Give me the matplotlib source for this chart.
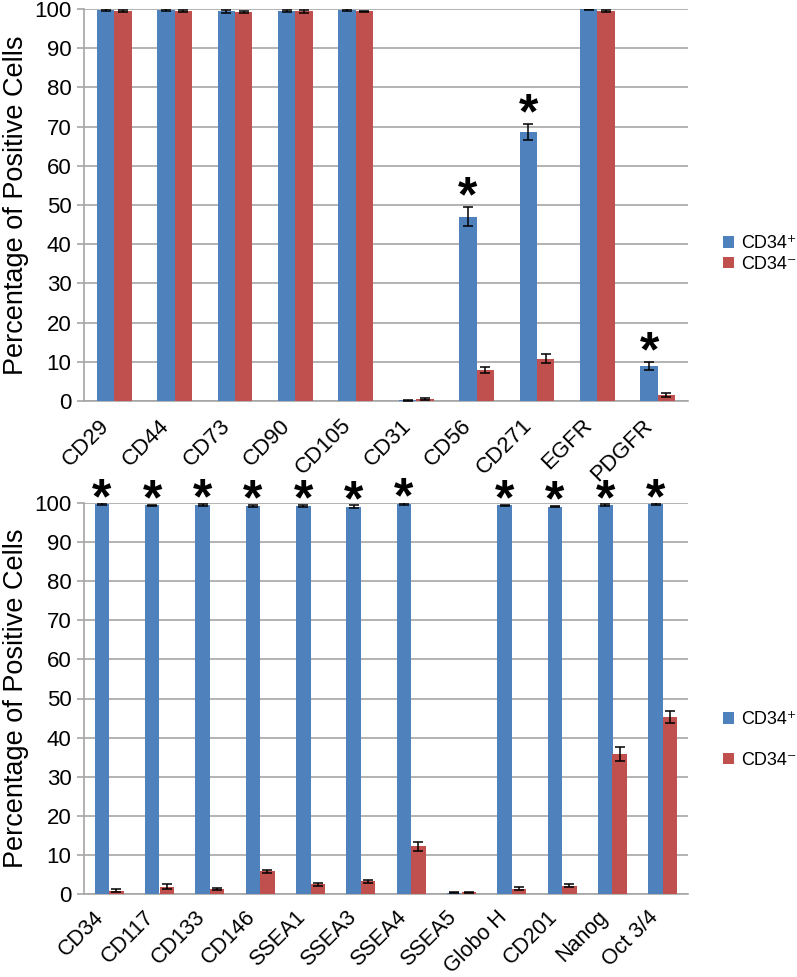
import matplotlib
matplotlib.use("Agg")
import matplotlib.pyplot as plt
import matplotlib.transforms as mtransforms
import numpy as np

plt.rcParams['font.family'] = ['Liberation Sans', 'DejaVu Sans']

# ---- data: top panel ----
top_cats = ["CD29", "CD44", "CD73", "CD90", "CD105", "CD31", "CD56", "CD271", "EGFR", "PDGFR"]
top_pos = [99.8, 99.8, 99.4, 99.5, 99.8, 0.2, 47.0, 68.6, 99.9, 9.0]
top_pos_err = [0.2, 0.2, 0.4, 0.3, 0.2, 0.1, 2.4, 2.1, 0.1, 1.0]
top_neg = [99.5, 99.5, 99.2, 99.4, 99.4, 0.5, 8.0, 10.8, 99.5, 1.5]
top_neg_err = [0.3, 0.2, 0.3, 0.3, 0.2, 0.2, 0.8, 1.2, 0.2, 0.5]
top_star = [False, False, False, False, False, False, True, True, False, True]

# ---- data: bottom panel ----
bot_cats = ["CD34", "CD117", "CD133", "CD146", "SSEA1", "SSEA3", "SSEA4", "SSEA5",
            "Globo H", "CD201", "Nanog", "Oct 3/4"]
bot_pos = [99.7, 99.4, 99.5, 99.3, 99.3, 99.0, 99.8, 0.3, 99.4, 99.1, 99.5, 99.7]
bot_pos_err = [0.2, 0.2, 0.3, 0.2, 0.2, 0.4, 0.2, 0.1, 0.2, 0.2, 0.2, 0.2]
bot_neg = [0.8, 1.9, 1.3, 5.8, 2.5, 3.3, 12.2, 0.4, 1.4, 2.1, 35.8, 45.3]
bot_neg_err = [0.4, 0.6, 0.3, 0.4, 0.4, 0.4, 1.2, 0.1, 0.4, 0.4, 1.8, 1.6]
bot_star = [True, True, True, True, True, True, True, False, True, True, True, True]

labels = ["CD34\u207a", "CD34\u207b"]
yticks = [0, 10, 20, 30, 40, 50, 60, 70, 80, 90, 100]

BLUE = "#4F81BD"
RED = "#C0504D"
GRID = "#A6A6A6"

W, H = 797, 977
fig = plt.figure(figsize=(W / 100, H / 100), dpi=100)

def px_axes(left, top, right, bottom):
    return fig.add_axes([left / W, 1 - bottom / H, (right - left) / W, (bottom - top) / H])

ax1 = px_axes(84, 9, 688, 401)
ax2 = px_axes(84, 503, 688, 894)

def draw(ax, cats, pos, pos_err, neg, neg_err, stars, star_off, xfs, xpad, xshift):
    x = np.arange(len(cats))
    w = 0.287
    b1 = ax.bar(x - w / 2, pos, w, color=BLUE, zorder=3, label=labels[0])
    b2 = ax.bar(x + w / 2, neg, w, color=RED, zorder=3, label=labels[1])
    ax.errorbar(x - w / 2, pos, yerr=pos_err, fmt='none', ecolor='black',
                elinewidth=1.1, capsize=3.5, capthick=1.1, zorder=4)
    ax.errorbar(x + w / 2, neg, yerr=neg_err, fmt='none', ecolor='black',
                elinewidth=1.1, capsize=3.5, capthick=1.1, zorder=4)
    for xi, v, e, s in zip(x, pos, pos_err, stars):
        if s:
            ax.annotate("*", xy=(xi - w / 2, v + e), xytext=(0, star_off),
                        textcoords='offset points', ha='center', va='baseline',
                        fontsize=36, fontweight='bold', zorder=5, annotation_clip=False)
    ax.set_xlim(-0.5, len(cats) - 0.5)
    ax.set_ylim(0, 100)
    ax.set_yticks(yticks)
    ax.tick_params(axis='y', labelsize=16, length=5, color=GRID, width=1.2, pad=4)
    ax.set_xticks(x)
    ax.set_xticklabels(cats, rotation=45, ha='right', va='center',
                       rotation_mode='anchor', fontsize=xfs)
    ax.tick_params(axis='x', length=0, pad=xpad)
    shift = mtransforms.ScaledTranslation(xshift / 100, 0, fig.dpi_scale_trans)
    for lab in ax.get_xticklabels():
        lab.set_transform(lab.get_transform() + shift)
    ax.yaxis.grid(True, color=GRID, linewidth=1.2, zorder=0)
    ax.set_axisbelow(True)
    for sp in ['top', 'right']:
        ax.spines[sp].set_visible(False)
    for sp in ['left', 'bottom']:
        ax.spines[sp].set_color(GRID)
        ax.spines[sp].set_linewidth(1.2)
    ax.set_ylabel("Percentage of Positive Cells", fontsize=19.5, labelpad=4)
    return b1, b2

h1 = draw(ax1, top_cats, top_pos, top_pos_err, top_neg, top_neg_err, top_star, -3,
          16, 15.5, -8)
h2 = draw(ax2, bot_cats, bot_pos, bot_pos_err, bot_neg, bot_neg_err, bot_star, -7,
          15.5, 14.5, -8)

fig.legend(h1, labels, loc='center left', bbox_to_anchor=(714 / W, 1 - 254 / H),
           frameon=False, fontsize=13, handlelength=0.6, handleheight=0.6,
           handletextpad=0.4, labelspacing=0.2, borderpad=0, borderaxespad=0.5)
fig.legend(h2, labels, loc='center left', bbox_to_anchor=(714 / W, 1 - 740 / H),
           frameon=False, fontsize=13, handlelength=0.6, handleheight=0.6,
           handletextpad=0.4, labelspacing=1.3, borderpad=0, borderaxespad=0.5)

fig.savefig("out.png", dpi=100)
